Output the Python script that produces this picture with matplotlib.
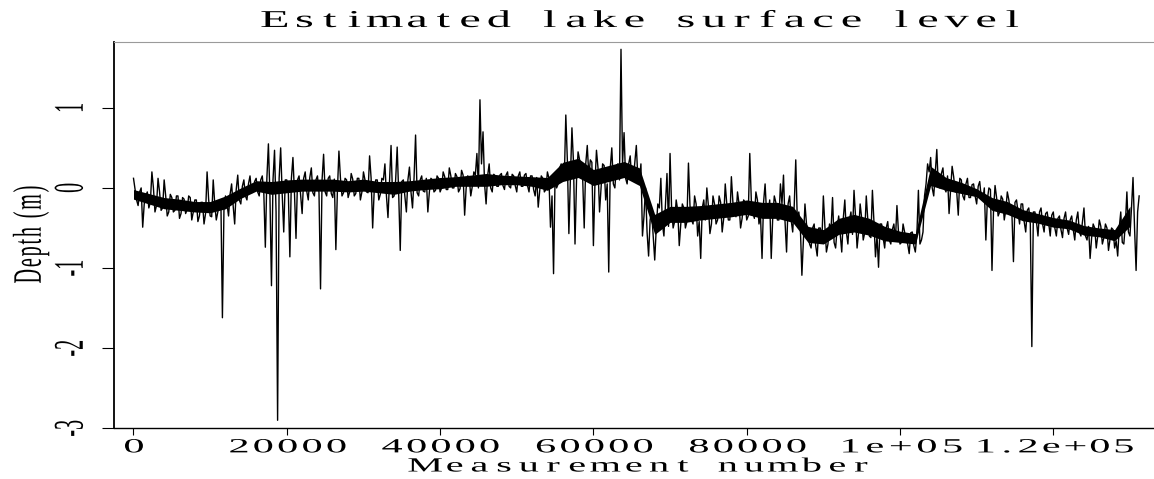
import numpy as np
import matplotlib
matplotlib.use("Agg")
import matplotlib.pyplot as plt
from matplotlib import patheffects
from matplotlib.path import Path
from matplotlib.textpath import text_to_path

step = 400
depth = [
    0.12, -0.15, -0.05, -0.49, -0.1, -0.25, 0.2, -0.3, 0.12, -0.28,
    0.1, -0.35, -0.08, -0.3, -0.1, -0.38, -0.12, -0.32, -0.1, -0.4,
    -0.15, -0.42, -0.18, -0.45, 0.2, -0.35, 0.1, -0.4, -0.2, -1.62,
    -0.1, -0.35, 0.05, -0.45, 0.16, -0.2, 0.1, -0.15, 0.15, -0.05,
    0.12, -0.1, 0.15, -0.74, 0.55, -1.22, 0.47, -2.9, 0.5, -0.55,
    0.1, -0.86, 0.38, -0.63, 0.15, -0.32, 0.2, -0.15, 0.25, -0.1,
    0.15, -1.26, 0.42, -0.1, 0.15, -0.12, -0.77, 0.46, -0.1, 0.12,
    -0.12, 0.18, -0.1, 0.12, -0.15, 0.2, -0.05, 0.4, -0.5, 0.1,
    -0.15, 0.12, 0.3, -0.37, 0.53, -0.1, 0.51, -0.78, 0.1, -0.3,
    0.26, -0.25, 0.66, -0.1, 0.15, -0.05, -0.3, 0.12, -0.05, 0.15,
    -0.05, 0.2, -0.02, 0.25, 0.0, 0.18, -0.05, 0.22, -0.34, 0.15,
    -0.1, 0.2, 0.43, 1.1, 0.7, -0.2, 0.3, -0.05, 0.15, 0.02,
    0.18, -0.02, 0.2, 0.0, 0.15, -0.05, 0.2, 0.02, 0.18, -0.05,
    0.15, -0.1, -0.24, 0.15, -0.05, 0.2, -0.49, -1.07, 0.0, 0.25,
    0.1, 0.91, -0.57, 0.75, -0.7, 0.45, 0.15, -0.5, 0.53, 0.35,
    -0.72, 0.47, -0.3, 0.3, -0.15, -1.05, 0.5, 0.0, 0.3, 1.73,
    0.69, 0.05, 0.4, 0.1, 0.53, 0.1, -0.6, 0.0, -0.85, -0.3,
    -0.9, -0.2, 0.12, -0.6, 0.18, 0.43, -0.5, -0.15, -0.72, -0.2,
    -0.5, 0.31, -0.4, -0.1, -0.6, -0.88, -0.15, 0.0, -0.57, -0.1,
    -0.45, -0.1, -0.55, 0.05, -0.4, 0.14, -0.3, -0.05, -0.5, -0.15,
    -0.4, 0.43, -0.3, -0.05, -0.45, -0.88, 0.05, -0.35, -0.88, -0.1,
    -0.4, 0.05, 0.16, -0.8, -0.1, -0.55, 0.35, -0.3, -1.09, -0.2,
    -0.55, -0.75, -0.45, -0.85, -0.5, -0.1, -0.8, -0.45, -0.12, -0.75,
    -0.35, -0.8, -0.15, -0.7, -0.3, -0.03, -0.75, -0.2, -0.65, -0.1,
    -0.6, -0.03, -0.86, -0.99, -0.45, -0.75, -0.42, -0.7, -0.45, -0.22,
    -0.7, -0.45, -0.65, -0.82, -0.55, -0.8, -0.03, -0.65, -0.1, 0.3,
    0.38, -0.1, 0.48, 0.0, 0.25, -0.05, -0.32, 0.27, -0.05, -0.34,
    0.1, -0.15, 0.12, -0.12, 0.05, -0.2, 0.08, -0.15, -0.65, 0.0,
    -1.03, 0.03, -0.35, -0.1, -0.4, -0.05, -0.3, -0.92, -0.15, -0.45,
    -0.2, -0.55, -0.25, -1.98, -0.3, -0.6, -0.25, -0.55, -0.3, -0.6,
    -0.3, -0.6, -0.35, -0.62, -0.3, -0.58, -0.35, -0.65, -0.3, -0.6,
    -0.25, -0.65, -0.88, -0.45, -0.75, -0.4, -0.7, -0.45, -0.78, -0.5,
    -0.75, -0.85, -0.3, -0.7, -0.05, -0.6, 0.13, -1.03, -0.1,
]
# in-between readings (200 measurements after each of the above), inside the band
depth_mid = [
    -0.02, -0.22, 0.0, -0.2, -0.05, -0.18, 0.0, -0.22, -0.05, -0.25,
    -0.1, -0.3, -0.12, -0.28, -0.1, -0.32, -0.14, -0.27, -0.12, -0.3,
    -0.15, -0.35, -0.18, -0.32, -0.14, -0.36, -0.2, -0.3, -0.15, -0.28,
    -0.2, -0.08, -0.22, -0.02, -0.15, 0.02, -0.1, 0.05, -0.06, 0.08,
    -0.05, 0.1, -0.06, 0.12, -0.1, 0.1, -0.3, 0.12, -0.08, 0.1,
    -0.05, 0.12, -0.06, 0.1, -0.08, 0.12, -0.04, 0.13, -0.06, 0.1,
    -0.06, 0.1, -0.05, 0.12, -0.07, 0.11, -0.04, 0.12, -0.06, 0.1,
    -0.05, 0.11, -0.07, 0.12, -0.05, 0.1, -0.06, 0.12, -0.04, 0.1,
    -0.08, 0.1, -0.1, 0.08, -0.12, 0.1, -0.08, 0.08, -0.1, 0.1,
    -0.05, 0.12, -0.06, 0.1, -0.04, 0.12, -0.05, 0.1, -0.03, 0.12,
    0.0, 0.14, -0.02, 0.15, 0.0, 0.14, -0.01, 0.16, 0.0, 0.13,
    0.02, 0.16, 0.0, 0.3, 0.05, 0.15, 0.0, 0.17, 0.02, 0.16,
    0.03, 0.16, 0.02, 0.17, 0.03, 0.15, 0.02, 0.16, 0.03, 0.15,
    -0.02, 0.13, -0.03, 0.12, -0.02, 0.12, -0.1, 0.15, 0.05, 0.3,
    0.1, 0.35, 0.12, 0.32, 0.1, 0.35, 0.12, 0.3, 0.15, 0.32,
    0.05, 0.25, 0.0, 0.28, 0.05, 0.25, 0.05, 0.28, 0.1, 0.3,
    0.12, 0.3, 0.1, 0.32, 0.12, 0.3, -0.35, -0.55, -0.4, -0.6,
    -0.5, -0.25, -0.45, -0.22, -0.48, -0.25, -0.42, -0.28, -0.45, -0.25,
    -0.42, -0.22, -0.45, -0.2, -0.42, -0.25, -0.4, -0.22, -0.45, -0.2,
    -0.4, -0.18, -0.38, -0.2, -0.4, -0.18, -0.36, -0.2, -0.38, -0.18,
    -0.35, -0.15, -0.38, -0.15, -0.35, -0.18, -0.33, -0.15, -0.36, -0.18,
    -0.4, -0.2, -0.42, -0.2, -0.4, -0.22, -0.4, -0.5, -0.65, -0.45,
    -0.7, -0.5, -0.72, -0.5, -0.68, -0.48, -0.7, -0.52, -0.68, -0.5,
    -0.58, -0.38, -0.55, -0.4, -0.58, -0.36, -0.55, -0.38, -0.56, -0.4,
    -0.62, -0.42, -0.6, -0.45, -0.62, -0.5, -0.65, -0.52, -0.66, -0.55,
    -0.68, -0.55, -0.7, -0.56, -0.72, -0.58, -0.7, -0.55, 0.05, 0.2,
    0.0, 0.2, 0.02, 0.18, 0.0, 0.15, -0.02, 0.14, -0.05, 0.12,
    -0.1, 0.05, -0.12, 0.04, -0.1, 0.02, -0.12, 0.0, -0.14, -0.02,
    -0.28, -0.12, -0.3, -0.14, -0.28, -0.15, -0.32, -0.18, -0.3, -0.2,
    -0.42, -0.28, -0.45, -0.3, -0.42, -0.3, -0.45, -0.32, -0.44, -0.34,
    -0.5, -0.38, -0.52, -0.38, -0.5, -0.4, -0.52, -0.4, -0.55, -0.42,
    -0.6, -0.48, -0.62, -0.5, -0.6, -0.48, -0.62, -0.5, -0.64, -0.52,
    -0.66, -0.5, -0.68, -0.45, -0.55, -0.25, -0.5, -0.3,
]

# dense core of the trace (where the samples pile up), every 2000 measurements
core_step = 2000
core_lo = [
    -0.14, -0.2, -0.26, -0.28, -0.3, -0.31, -0.26, -0.13, -0.04, -0.08,
    -0.06, -0.04, -0.04, -0.04, -0.05, -0.04, -0.06, -0.08, -0.04, -0.02,
    -0.01, 0.02, 0.02, 0.02, 0.04, 0.04, 0.02, -0.03, 0.08, 0.13,
    0.03, 0.08, 0.13, 0.03, -0.58, -0.43, -0.43, -0.4, -0.38, -0.36,
    -0.33, -0.38, -0.38, -0.43, -0.68, -0.7, -0.58, -0.55, -0.59, -0.66,
    -0.68, -0.7, 0.03, -0.03, -0.07, -0.11, -0.28, -0.33, -0.41, -0.44,
    -0.49, -0.51, -0.59, -0.61, -0.66, -0.48,
]
core_hi = [
    -0.02, -0.07, -0.12, -0.14, -0.17, -0.17, -0.1, 0.0, 0.09, 0.08,
    0.1, 0.11, 0.11, 0.11, 0.09, 0.11, 0.08, 0.08, 0.09, 0.11,
    0.13, 0.14, 0.16, 0.18, 0.16, 0.15, 0.14, 0.13, 0.32, 0.37,
    0.23, 0.28, 0.33, 0.25, -0.33, -0.23, -0.23, -0.22, -0.2, -0.18,
    -0.15, -0.18, -0.18, -0.23, -0.48, -0.52, -0.38, -0.33, -0.38, -0.48,
    -0.54, -0.57, 0.27, 0.13, 0.07, -0.01, -0.12, -0.17, -0.27, -0.32,
    -0.37, -0.4, -0.47, -0.5, -0.52, -0.23,
]

xticks = [0, 20000, 40000, 60000, 80000, 100000, 120000]
xtick_labels = ["0", "20000", "40000", "60000", "80000", "1e+05", "1.2e+05"]
yticks = [-3, -2, -1, 0, 1]
ytick_labels = ["-3", "-2", "-1", "0", "1"]

# pixel widths the (wide, letter-spaced) labels take in the reference
xtick_fit = [None, 117, 117, 117, 117, 122, 158]

# merge the two sets of readings into one trace, in measurement order
n = len(depth)
trace_x = np.empty(2 * n - 1)
trace_y = np.empty(2 * n - 1)
trace_x[0::2] = np.arange(n) * step
trace_x[1::2] = np.arange(n - 1) * step + step / 2
trace_y[0::2] = depth
trace_y[1::2] = depth_mid
core_x = np.arange(len(core_lo)) * core_step


class Widen(patheffects.AbstractPathEffect):
    """Scale the glyph outlines and spread the letters of a Text.
    The artist stays a normal Text; only its drawn outline changes."""

    def __init__(self, text, sx=1.0, sy=1.0, fit=None):
        super().__init__()
        self.text, self.sx, self.sy, self.fit = text, sx, sy, fit

    def draw_path(self, renderer, gc, tpath, affine, rgbFace=None):
        verts = np.array(tpath.vertices, dtype=float)
        s = self.text.get_text()
        prop = self.text.get_fontproperties()
        counts = [len(text_to_path.get_text_path(prop, ch)[0]) for ch in s]
        per_glyph = sum(counts) == len(verts)
        ext = tpath.get_extents()
        cy = (ext.y0 + ext.y1) / 2
        verts[:, 1] = cy + (verts[:, 1] - cy) * self.sy
        if per_glyph:
            # widen each letter about its own centre
            idx = np.repeat(np.arange(len(s)), counts)
            start = 0
            for c in counts:
                if c:
                    seg = verts[start:start + c, 0]
                    gx = (seg.min() + seg.max()) / 2
                    verts[start:start + c, 0] = gx + (seg - gx) * self.sx
                start += c
        else:
            cx = (ext.x0 + ext.x1) / 2
            verts[:, 0] = cx + (verts[:, 0] - cx) * self.sx
        if self.fit and len(s) > 1 and per_glyph:
            m = affine.get_matrix()
            scale = np.hypot(m[0, 0], m[1, 0])
            x0, x1 = verts[:, 0].min(), verts[:, 0].max()
            cx = (ext.x0 + ext.x1) / 2
            track = (self.fit / scale - (x1 - x0)) / (len(s) - 1)
            verts[:, 0] += (idx - (len(s) - 1) / 2) * track
            # keep the ink centred where the layout put it
            verts[:, 0] += cx - (verts[:, 0].min() + verts[:, 0].max()) / 2
        renderer.draw_path(gc, Path(verts, tpath.codes), affine, rgbFace)


serif = ["Liberation Serif", "DejaVu Serif"]

W, H = 1154, 479
fig = plt.figure(figsize=(W / 100, H / 100), dpi=100)
ax = fig.add_axes([114 / W, (H - 428.3) / H, (W - 114) / W, (428.3 - 41.7) / H])

ax.fill_between(core_x, core_lo, core_hi, color="black", lw=0)
ax.plot(trace_x, trace_y, color="black", lw=1.0)

ax.set_xlim(-2544, 133137)
ax.set_ylim(-3.0, 1.825)

ax.spines["right"].set_visible(False)
ax.spines["top"].set_color("#9a9a9a")
ax.spines["left"].set_linewidth(1.3)
ax.spines["bottom"].set_linewidth(1.0)

ax.set_xticks(xticks, labels=xtick_labels)
ax.set_yticks(yticks, labels=ytick_labels)
ax.tick_params(axis="x", length=5, width=0.8, pad=9.1, labelsize=14.5)
ax.tick_params(axis="y", length=8.3, width=0.8, pad=22.7, labelsize=14.5,
               labelrotation=90)

for t, fit in zip(ax.get_xticklabels(), xtick_fit):
    t.set_family(serif)
    t.set_va("center")
    t.set_path_effects([Widen(t, sx=2.1, fit=fit)])
for t in ax.get_yticklabels():
    t.set_family(serif)
    t.set_ha("center")
    t.set_va("center")
    t.set_path_effects([Widen(t, sy=2.1)])

title = ax.set_title("Estimated lake surface level", family=serif,
                     fontsize=17.4, pad=10.6, x=0.505)
title.set_path_effects([Widen(title, sx=2.0, fit=758)])

xlab = ax.set_xlabel("Measurement number", family=serif, fontsize=14.5, va="center")
ax.xaxis.set_label_coords(0.503, -0.1001)
xlab.set_path_effects([Widen(xlab, sx=2.0, fit=460)])

ylab = ax.set_ylabel("Depth (m)", family=serif, fontsize=14.5, va="center")
ax.yaxis.set_label_coords(-0.0798, 0.5)
ylab.set_path_effects([Widen(ylab, sy=2.0, fit=97)])

fig.savefig("out.png", dpi=100)
